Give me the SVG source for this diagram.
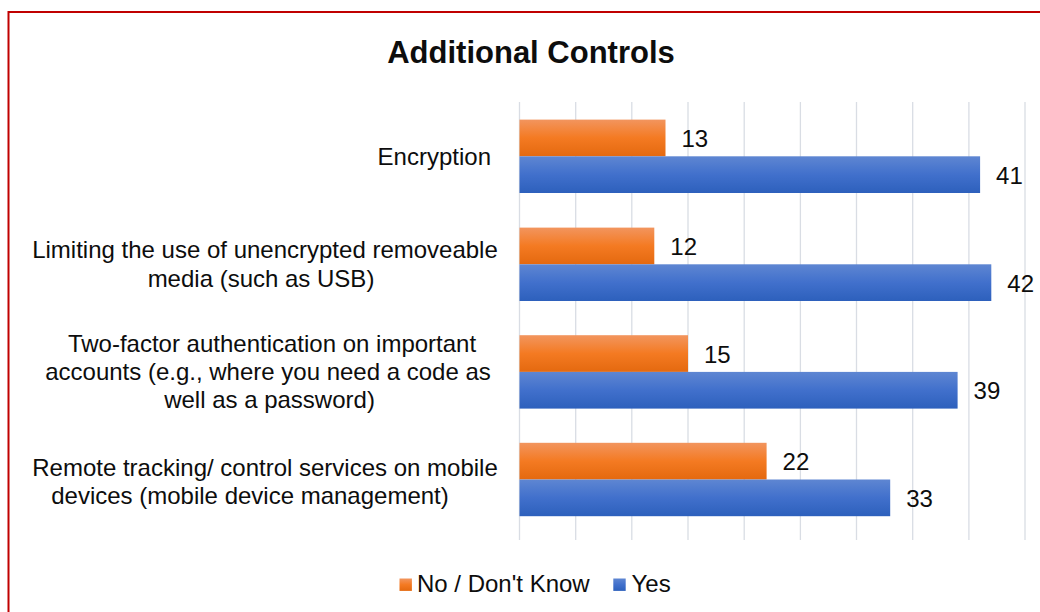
<svg xmlns="http://www.w3.org/2000/svg" width="1040" height="612" viewBox="0 0 1040 612">
<defs>
<linearGradient id="gO" x1="0" y1="0" x2="0" y2="1">
<stop offset="0" stop-color="#F2955E"/>
<stop offset="0.5" stop-color="#F47A22"/>
<stop offset="1" stop-color="#E4690F"/>
</linearGradient>
<linearGradient id="gB" x1="0" y1="0" x2="0" y2="1">
<stop offset="0" stop-color="#5E86D2"/>
<stop offset="0.5" stop-color="#4170CC"/>
<stop offset="1" stop-color="#2D60BC"/>
</linearGradient>
<style>
text{font-family:"Liberation Sans",Arial,sans-serif;fill:#0d0d0d;font-size:24px}
.title{font-size:31px;font-weight:bold;text-anchor:middle}
.cat{text-anchor:middle}
.grid line{stroke:#D9DDE4;stroke-width:1.3}
.no{fill:url(#gO)}
.yes{fill:url(#gB)}
</style>
</defs>
<rect x="0" y="0" width="1040" height="612" fill="#fff"/>
<rect x="8.5" y="12" width="1040" height="620" fill="#fff" stroke="#C00000" stroke-width="2"/>
<text id="title" class="title" x="531" y="63">Additional Controls</text>
<g class="grid" id="gridlines">
<line x1="519.5" y1="102" x2="519.5" y2="540"/>
<line x1="575.7" y1="102" x2="575.7" y2="540"/>
<line x1="631.8" y1="102" x2="631.8" y2="540"/>
<line x1="688.0" y1="102" x2="688.0" y2="540"/>
<line x1="744.2" y1="102" x2="744.2" y2="540"/>
<line x1="800.4" y1="102" x2="800.4" y2="540"/>
<line x1="856.5" y1="102" x2="856.5" y2="540"/>
<line x1="912.7" y1="102" x2="912.7" y2="540"/>
<line x1="968.9" y1="102" x2="968.9" y2="540"/>
<line x1="1025.0" y1="102" x2="1025.0" y2="540"/>
</g>
<g id="cat-encryption">
<text x="491" y="165" style="text-anchor:end">Encryption</text>
<rect class="no" x="519.5" y="119.6" width="146" height="36.7"/>
<rect class="yes" x="519.5" y="156.3" width="460.6" height="36.7"/>
<text x="681.5" y="147">13</text>
<text x="996.1" y="183.6">41</text>
</g>
<g id="cat-removable">
<text class="cat" x="265" y="257.5">Limiting the use of unencrypted removeable</text>
<text class="cat" x="261" y="286.5">media (such as USB)</text>
<rect class="no" x="519.5" y="227.6" width="134.8" height="36.7"/>
<rect class="yes" x="519.5" y="264.3" width="471.8" height="36.7"/>
<text x="670.3" y="254.8">12</text>
<text x="1007.3" y="291.5">42</text>
</g>
<g id="cat-2fa">
<text class="cat" x="272" y="351.5">Two-factor authentication on important</text>
<text class="cat" x="268" y="380">accounts (e.g., where you need a code as</text>
<text class="cat" x="269.5" y="408">well as a password)</text>
<rect class="no" x="519.5" y="335.2" width="168.5" height="36.7"/>
<rect class="yes" x="519.5" y="371.9" width="438.1" height="36.7"/>
<text x="704" y="362.5">15</text>
<text x="973.6" y="399.2">39</text>
</g>
<g id="cat-mdm">
<text class="cat" x="265" y="476">Remote tracking/ control services on mobile</text>
<text class="cat" x="250" y="504">devices (mobile device management)</text>
<rect class="no" x="519.5" y="442.8" width="247.1" height="36.7"/>
<rect class="yes" x="519.5" y="479.5" width="370.7" height="36.7"/>
<text x="782.6" y="470">22</text>
<text x="906.2" y="506.8">33</text>
</g>
<g id="legend">
<rect class="no" x="399.5" y="578.5" width="12.4" height="12.4"/>
<text x="417" y="591.5">No / Don't Know</text>
<rect class="yes" x="613.3" y="578.5" width="12.4" height="12.4"/>
<text x="631.5" y="591.5">Yes</text>
</g>
</svg>
